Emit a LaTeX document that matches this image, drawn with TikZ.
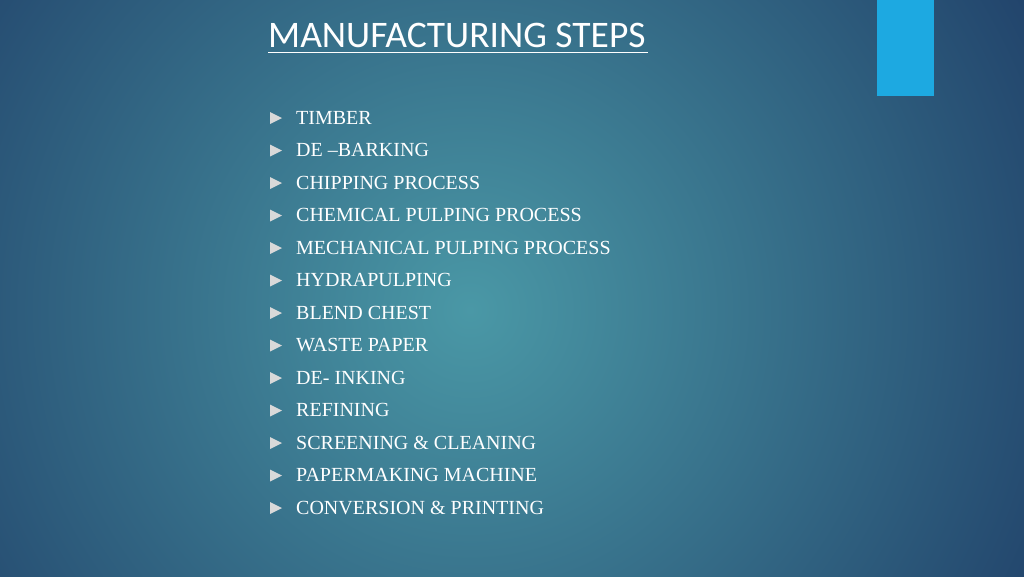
\documentclass[tikz,border=0pt]{standalone}
\usepackage{fontspec}
\setmainfont{Liberation Serif}
\newfontfamily\titlefont{Carlito}
\definecolor{bgin}{HTML}{4A98A6}
\definecolor{bgout}{HTML}{1E3C66}
\definecolor{accent}{HTML}{1DA9E1}
\definecolor{txt}{HTML}{FFFFFF}
\tikzset{item/.style={anchor=base west,text=txt,font=\fontsize{20}{22}\selectfont,inner sep=0},
 bul/.style={fill=txt!85!black}}
\begin{document}
\begin{tikzpicture}[x=1pt,y=-1pt]
\useasboundingbox (0,0) rectangle (1024,576);
\clip (0,0) rectangle (1024,576);
\fill[bgout] (0,0) rectangle (1024,576);
\shade[inner color=bgin,outer color=bgout] (470,310) circle (700);
\fill[accent] (877,0) rectangle (934,96);
\node[anchor=base west,text=txt,font=\titlefont\fontsize{37.5}{40}\selectfont,inner sep=0] (title) at (268,47) {MANUFACTURING STEPS};
\draw[txt,line width=1] (268,52) -- (648,52);
\foreach \t [count=\i] in {TIMBER,DE --BARKING,CHIPPING PROCESS,CHEMICAL PULPING PROCESS,MECHANICAL PULPING PROCESS,HYDRAPULPING,BLEND CHEST,WASTE PAPER,DE- INKING,REFINING,SCREENING \& CLEANING,PAPERMAKING MACHINE,CONVERSION \& PRINTING}{
 \pgfmathsetmacro\yy{124+(\i-1)*32.5}
 \fill[bul] (270,\yy-12) -- (282,\yy-6) -- (270,\yy) -- cycle;
 \node[item] (it\i) at (296,\yy) {\t};
}
\end{tikzpicture}
\end{document}
